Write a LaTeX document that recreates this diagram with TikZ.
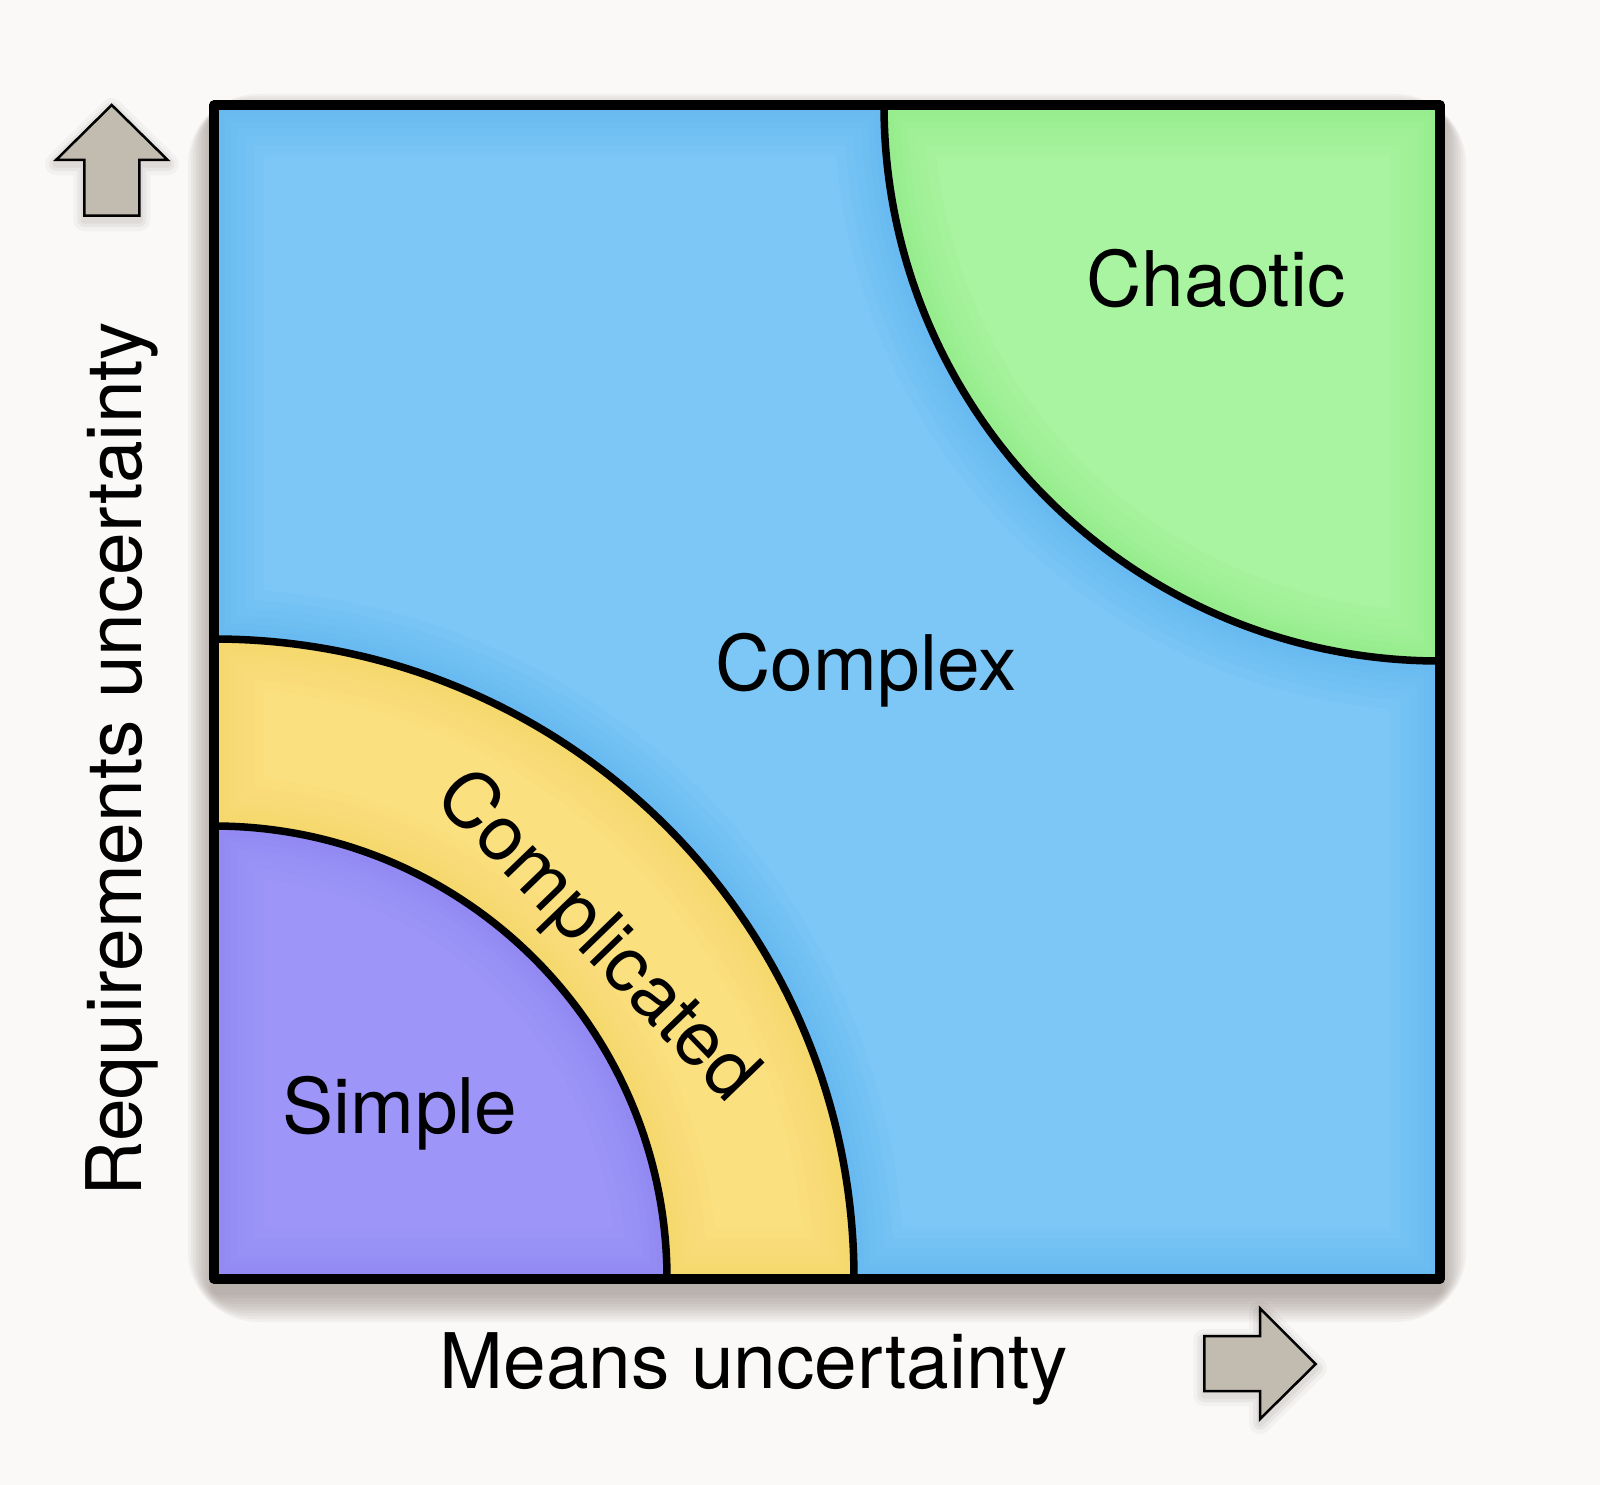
\documentclass[tikz,border=0pt]{standalone}
\usepackage{fontspec}
\setmainfont{TeX Gyre Heros}
\definecolor{bg}{HTML}{FAF9F8}
\definecolor{cxblue}{HTML}{7CC7F6}
\definecolor{cxblueedge}{HTML}{4AAAEA}
\definecolor{chgreen}{HTML}{A8F4A0}
\definecolor{chgreenedge}{HTML}{7EE474}
\definecolor{cpyellow}{HTML}{FBE07F}
\definecolor{cpyellowedge}{HTML}{F2CF55}
\definecolor{smpurple}{HTML}{9D96F8}
\definecolor{smpurpleedge}{HTML}{857BF2}
\definecolor{arrowfill}{HTML}{C2BBAF}
\definecolor{shadowc}{HTML}{6E5E54}
\begin{document}
\begin{tikzpicture}[x=0.01cm,y=-0.01cm,
  lbl/.style={font=\fontsize{21.8pt}{26pt}\selectfont, text=black, inner sep=0pt},
  region/.style={line width=0.075cm, draw=black},
  axisarrow/.style={fill=arrowfill, draw=black, line width=0.025cm, line join=miter},
  glow/.style={line width=#1, opacity=0.07}]
\useasboundingbox (0,0) rectangle (1600,1485);
\fill[bg] (0,0) rectangle (1600,1485);

% soft drop shadow of the square
\foreach \i in {1,...,10}{
  \fill[shadowc, opacity=0.055, rounded corners=2*\i] (214-2.6*\i,116-2.2*\i) rectangle (1440+2.6*\i,1292+3*\i);
}

\def\bluepath{(214,105) -- (884,105) arc[start angle=180,end angle=90,radius=556] -- (1440,1279) -- (854,1279) arc[start angle=0,end angle=-90,radius=640] -- cycle}
\def\greenpath{(884,105) -- (1440,105) -- (1440,661) arc[start angle=90,end angle=180,radius=556] -- cycle}
\def\yellowpath{(214,639) arc[start angle=-90,end angle=0,radius=640] -- (667,1279) arc[start angle=0,end angle=-90,radius=453] -- cycle}
\def\purplepath{(214,1279) -- (214,826) arc[start angle=-90,end angle=0,radius=453] -- cycle}

% fills with soft inner edge shading
\fill[cxblue] \bluepath;
\begin{scope}\clip \bluepath;
  \foreach \w in {1.0,0.8,0.62,0.46,0.32,0.2}{\draw[cxblueedge, glow=\w cm] \bluepath;}
\end{scope}
\fill[chgreen] \greenpath;
\begin{scope}\clip \greenpath;
  \foreach \w in {1.0,0.8,0.62,0.46,0.32,0.2}{\draw[chgreenedge, glow=\w cm] \greenpath;}
\end{scope}
\fill[cpyellow] \yellowpath;
\begin{scope}\clip \yellowpath;
  \foreach \w in {1.0,0.8,0.62,0.46,0.32,0.2}{\draw[cpyellowedge, glow=\w cm] \yellowpath;}
\end{scope}
\fill[smpurple] \purplepath;
\begin{scope}\clip \purplepath;
  \foreach \w in {1.0,0.8,0.62,0.46,0.32,0.2}{\draw[smpurpleedge, glow=\w cm] \purplepath;}
\end{scope}

% boundaries
\draw[region] (884,105) arc[start angle=180,end angle=90,radius=556];
\draw[region] (214,639) arc[start angle=-90,end angle=0,radius=640];
\draw[region] (214,826) arc[start angle=-90,end angle=0,radius=453];
\draw[line width=0.095cm, line join=round] (214,105) rectangle (1440,1279);

% region labels
\node[lbl, anchor=base] (chaotic) at (1216,307) {Chaotic};
\node[lbl, anchor=base] (complex) at (866,690) {Complex};
\node[lbl, anchor=base] (simple) at (400,1133) {Simple};
\node[lbl, rotate=-46] (complicated) at (595,938) {Complicated};

% axis arrows with soft shadows
\foreach \w/\o in {0.22cm/0.05, 0.14cm/0.07, 0.07cm/0.08}{
  \draw[shadowc, opacity=\o, line width=\w, line join=round] (111.7,109) -- (167.7,164) -- (139.3,164) -- (139.3,220) -- (84.3,220) -- (84.3,164) -- (56,164) -- cycle;
  \draw[shadowc, opacity=\o, line width=\w, line join=round] (1315.7,1368) -- (1260,1423) -- (1260,1395) -- (1204.3,1395) -- (1204.3,1340) -- (1260,1340) -- (1260,1312) -- cycle;
}
\draw[axisarrow] (111.7,105) -- (167.7,160) -- (139.3,160) -- (139.3,215.7) -- (84.3,215.7) -- (84.3,160) -- (56,160) -- cycle;
\draw[axisarrow] (1315.7,1364) -- (1260,1419) -- (1260,1391) -- (1204.3,1391) -- (1204.3,1336) -- (1260,1336) -- (1260,1308.3) -- cycle;

% axis labels
\node[lbl, anchor=base] (means) at (754,1388) {Means uncertainty};
\node[lbl, anchor=base, rotate=90] (req) at (141,759) {Requirements uncertainty};
\end{tikzpicture}
\end{document}
